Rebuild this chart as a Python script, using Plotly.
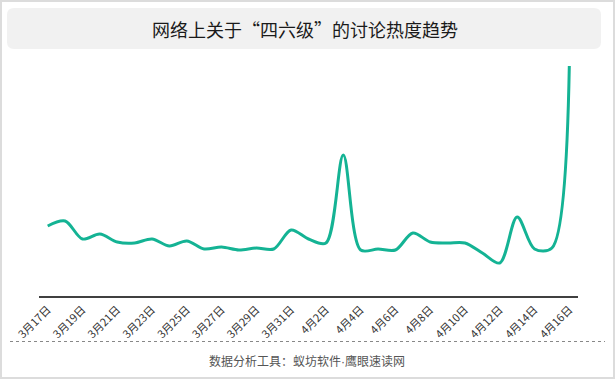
import plotly.graph_objects as go

dates = ["3月17日", "3月18日", "3月19日", "3月20日", "3月21日", "3月22日", "3月23日", "3月24日",
         "3月25日", "3月26日", "3月27日", "3月28日", "3月29日", "3月30日", "3月31日", "4月1日",
         "4月2日", "4月3日", "4月4日", "4月5日", "4月6日", "4月7日", "4月8日", "4月9日",
         "4月10日", "4月11日", "4月12日", "4月13日", "4月14日", "4月15日", "4月16日"]
heat = [70, 75, 57, 62, 54, 53, 57, 50, 55, 47, 49, 46, 48, 47, 66, 57,
        53, 141, 46, 47, 46, 63, 54, 53, 53, 43, 33, 79, 47, 48, 230]
tick_labels = dates[::2]

title_text = "网络上关于“四六级”的讨论热度趋势"
source_parts = ["数据分析工具：蚁坊软件", "·", "鹰眼速读网"]

W, H = 615, 379
L, R, T, B = 39, 37, 56, 83
PW, PH = W - L - R, H - T - B


def px(x):
    return (x - L) / PW


def py(y):
    return (H - B - y) / PH


def rounded_rect(x0, y0, x1, y1, r):
    return (f"M {px(x0 + r)},{py(y0)} L {px(x1 - r)},{py(y0)} "
            f"Q {px(x1)},{py(y0)} {px(x1)},{py(y0 + r)} L {px(x1)},{py(y1 - r)} "
            f"Q {px(x1)},{py(y1)} {px(x1 - r)},{py(y1)} L {px(x0 + r)},{py(y1)} "
            f"Q {px(x0)},{py(y1)} {px(x0)},{py(y1 - r)} L {px(x0)},{py(y0 + r)} "
            f"Q {px(x0)},{py(y0)} {px(x0 + r)},{py(y0)} Z")


font_family = "Noto Sans CJK SC, Noto Sans, sans-serif"

fig = go.Figure()
fig.add_trace(go.Scatter(
    x=dates, y=heat, mode="lines",
    line=dict(color="#14b394", width=3, shape="spline", smoothing=0.9),
    hoverinfo="x+y",
))

shapes = [
    # outer border
    dict(type="rect", xref="paper", yref="paper", x0=px(1), y0=py(1), x1=px(W - 1), y1=py(H - 1),
         line=dict(color="#dcdcdc", width=2), fillcolor="rgba(0,0,0,0)", layer="below"),
    # title box
    dict(type="path", xref="paper", yref="paper", path=rounded_rect(7, 8, 601, 49, 7),
         fillcolor="#f1f1f1", line=dict(width=0), layer="below"),
    # dotted separator
    dict(type="line", xref="paper", yref="paper", x0=px(10), x1=px(605), y0=py(341.5), y1=py(341.5),
         line=dict(color="#888888", width=1, dash="dot")),
]

source_html = (source_parts[0]
               + '<span style="font-family:Liberation Sans">' + source_parts[1] + '</span>'
               + source_parts[2])

annotations = [
    dict(text=title_text, xref="paper", yref="paper", x=px(305), y=py(29),
         xanchor="center", yanchor="middle", showarrow=False,
         font=dict(size=18, color="#1a1a1a", family=font_family)),
    dict(text=source_html, xref="paper", yref="paper", x=px(307), y=py(360),
         xanchor="center", yanchor="middle", showarrow=False,
         font=dict(size=12, color="#555555", family=font_family)),
]

fig.update_layout(
    width=W, height=H,
    margin=dict(l=L, r=R, t=T, b=B, autoexpand=False),
    paper_bgcolor="white", plot_bgcolor="white",
    showlegend=False,
    shapes=shapes, annotations=annotations,
    font=dict(family=font_family),
    xaxis=dict(
        type="category", range=[-0.5, len(dates) - 0.5],
        tickmode="array", tickvals=tick_labels, ticktext=tick_labels,
        tickangle=-45, tickfont=dict(size=11, color="#333333"),
        showgrid=False, zeroline=False, automargin=False,
        showline=True, linecolor="#404040", linewidth=2,
        ticks="outside", ticklen=1, tickcolor="rgba(0,0,0,0)", fixedrange=True,
    ),
    yaxis=dict(range=[0, PH], visible=False, fixedrange=True),
)

fig.write_html(
    "out.html",
    config={"displayModeBar": False},
    post_script="document.body.style.margin='0';document.body.style.overflow='hidden';",
)
